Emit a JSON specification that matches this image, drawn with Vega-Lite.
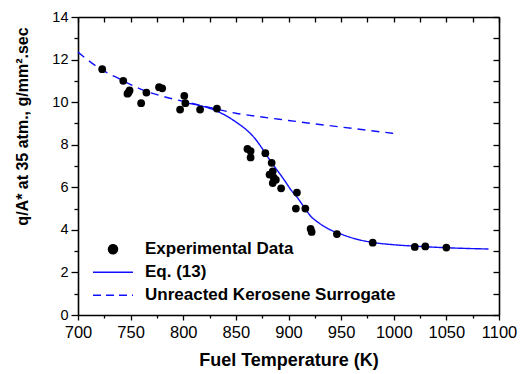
{
  "$schema": "https://vega.github.io/schema/vega-lite/v6.json",
  "width": 421,
  "height": 298,
  "autosize": "none",
  "padding": {"left": 78, "top": 17, "right": 21, "bottom": 59},
  "background": "white",
  "config": {
    "view": {"stroke": null},
    "font": "Liberation Sans",
    "axis": {"domainColor": "black", "tickColor": "black", "domainWidth": 1.6, "tickWidth": 1.3, "grid": false, "labelColor": "black", "titleColor": "black"}
  },
  "datasets": {
    "points": [
      {"T": 723, "q": 11.55, "series": "Experimental Data"},
      {"T": 743, "q": 11.0, "series": "Experimental Data"},
      {"T": 747, "q": 10.4, "series": "Experimental Data"},
      {"T": 749, "q": 10.55, "series": "Experimental Data"},
      {"T": 748, "q": 10.45, "series": "Experimental Data"},
      {"T": 760, "q": 9.95, "series": "Experimental Data"},
      {"T": 765, "q": 10.45, "series": "Experimental Data"},
      {"T": 777, "q": 10.7, "series": "Experimental Data"},
      {"T": 780, "q": 10.65, "series": "Experimental Data"},
      {"T": 797, "q": 9.65, "series": "Experimental Data"},
      {"T": 801, "q": 10.3, "series": "Experimental Data"},
      {"T": 802, "q": 9.95, "series": "Experimental Data"},
      {"T": 816, "q": 9.65, "series": "Experimental Data"},
      {"T": 832, "q": 9.7, "series": "Experimental Data"},
      {"T": 861, "q": 7.8, "series": "Experimental Data"},
      {"T": 864, "q": 7.7, "series": "Experimental Data"},
      {"T": 864, "q": 7.4, "series": "Experimental Data"},
      {"T": 878, "q": 7.6, "series": "Experimental Data"},
      {"T": 884, "q": 7.15, "series": "Experimental Data"},
      {"T": 882, "q": 6.6, "series": "Experimental Data"},
      {"T": 885, "q": 6.75, "series": "Experimental Data"},
      {"T": 886, "q": 6.45, "series": "Experimental Data"},
      {"T": 885, "q": 6.2, "series": "Experimental Data"},
      {"T": 888, "q": 6.35, "series": "Experimental Data"},
      {"T": 893, "q": 5.95, "series": "Experimental Data"},
      {"T": 908, "q": 5.75, "series": "Experimental Data"},
      {"T": 907, "q": 5.0, "series": "Experimental Data"},
      {"T": 916, "q": 5.0, "series": "Experimental Data"},
      {"T": 921, "q": 4.05, "series": "Experimental Data"},
      {"T": 922, "q": 3.9, "series": "Experimental Data"},
      {"T": 946, "q": 3.8, "series": "Experimental Data"},
      {"T": 980, "q": 3.4, "series": "Experimental Data"},
      {"T": 1020, "q": 3.2, "series": "Experimental Data"},
      {"T": 1030, "q": 3.22, "series": "Experimental Data"},
      {"T": 1050, "q": 3.17, "series": "Experimental Data"}
    ],
    "lines": [
      {"T": 800, "q": 9.98, "series": "Eq. (13)"},
      {"T": 815, "q": 9.85, "series": "Eq. (13)"},
      {"T": 830, "q": 9.62, "series": "Eq. (13)"},
      {"T": 840, "q": 9.38, "series": "Eq. (13)"},
      {"T": 852, "q": 9.0, "series": "Eq. (13)"},
      {"T": 860, "q": 8.7, "series": "Eq. (13)"},
      {"T": 868, "q": 8.3, "series": "Eq. (13)"},
      {"T": 876, "q": 7.75, "series": "Eq. (13)"},
      {"T": 884, "q": 7.15, "series": "Eq. (13)"},
      {"T": 890, "q": 6.75, "series": "Eq. (13)"},
      {"T": 896, "q": 6.34, "series": "Eq. (13)"},
      {"T": 902, "q": 5.9, "series": "Eq. (13)"},
      {"T": 909, "q": 5.48, "series": "Eq. (13)"},
      {"T": 915, "q": 5.05, "series": "Eq. (13)"},
      {"T": 921, "q": 4.65, "series": "Eq. (13)"},
      {"T": 929, "q": 4.32, "series": "Eq. (13)"},
      {"T": 937, "q": 4.07, "series": "Eq. (13)"},
      {"T": 950, "q": 3.8, "series": "Eq. (13)"},
      {"T": 962, "q": 3.6, "series": "Eq. (13)"},
      {"T": 980, "q": 3.41, "series": "Eq. (13)"},
      {"T": 1000, "q": 3.3, "series": "Eq. (13)"},
      {"T": 1022, "q": 3.23, "series": "Eq. (13)"},
      {"T": 1050, "q": 3.16, "series": "Eq. (13)"},
      {"T": 1090, "q": 3.1, "series": "Eq. (13)"},
      {"T": 700, "q": 12.35, "series": "Unreacted Kerosene Surrogate"},
      {"T": 720, "q": 11.6, "series": "Unreacted Kerosene Surrogate"},
      {"T": 740, "q": 11.08, "series": "Unreacted Kerosene Surrogate"},
      {"T": 760, "q": 10.6, "series": "Unreacted Kerosene Surrogate"},
      {"T": 780, "q": 10.28, "series": "Unreacted Kerosene Surrogate"},
      {"T": 800, "q": 10.04, "series": "Unreacted Kerosene Surrogate"},
      {"T": 825, "q": 9.75, "series": "Unreacted Kerosene Surrogate"},
      {"T": 850, "q": 9.48, "series": "Unreacted Kerosene Surrogate"},
      {"T": 875, "q": 9.3, "series": "Unreacted Kerosene Surrogate"},
      {"T": 900, "q": 9.14, "series": "Unreacted Kerosene Surrogate"},
      {"T": 925, "q": 8.98, "series": "Unreacted Kerosene Surrogate"},
      {"T": 950, "q": 8.83, "series": "Unreacted Kerosene Surrogate"},
      {"T": 975, "q": 8.68, "series": "Unreacted Kerosene Surrogate"},
      {"T": 1000, "q": 8.53, "series": "Unreacted Kerosene Surrogate"}
    ]
  },
  "resolve": {"axis": {"x": "independent", "y": "independent"}},
  "layer": [
    {
      "data": {"name": "lines"},
      "mark": {"type": "line", "strokeWidth": 1.4, "interpolate": "monotone"},
      "encoding": {
        "x": {"field": "T", "type": "quantitative", "scale": {"domain": [700, 1100], "nice": false, "zero": false},
          "axis": {"orient": "bottom", "values": [725, 775, 825, 875, 925, 975, 1025, 1075], "tickSize": 3, "labels": false, "domain": false, "title": null}},
        "y": {"field": "q", "type": "quantitative", "scale": {"domain": [0, 14], "nice": false},
          "axis": {"orient": "left", "values": [1, 3, 5, 7, 9, 11, 13], "tickSize": 4, "labels": false, "domain": false, "title": null}},
        "color": {"field": "series", "type": "nominal",
          "scale": {"domain": ["Experimental Data", "Eq. (13)", "Unreacted Kerosene Surrogate"], "range": ["black", "#1010ff", "#1010ff"]},
          "legend": {
            "title": null, "orient": "none", "legendX": 14, "legendY": 221,
            "symbolType": "stroke", "symbolSize": 1600, "clipHeight": 22.5, "rowPadding": 0,
            "labelFont": "Liberation Sans", "labelFontSize": 17, "labelFontWeight": "bold", "labelColor": "black", "labelOffset": 11, "labelLimit": 400, "padding": 0,
            "encode": {"symbols": {"update": {
              "shape": {"signal": "datum.value === 'Experimental Data' ? 'circle' : 'stroke'"},
              "size": {"signal": "datum.value === 'Experimental Data' ? 80 : 1600"},
              "fill": {"signal": "datum.value === 'Experimental Data' ? 'black' : 'transparent'"},
              "stroke": {"signal": "datum.value === 'Experimental Data' ? 'transparent' : '#1010ff'"},
              "strokeWidth": {"value": 1.5},
              "strokeDash": {"signal": "datum.value === 'Unreacted Kerosene Surrogate' ? [8, 5] : [1, 0]"},
              "opacity": {"value": 1}
            }}}
          }},
        "strokeDash": {"field": "series", "type": "nominal",
          "scale": {"domain": ["Eq. (13)", "Unreacted Kerosene Surrogate"], "range": [[1, 0], [8, 6]]}, "legend": null}
      }
    },
    {
      "data": {"name": "points"},
      "mark": {"type": "point", "filled": true, "shape": "circle", "size": 60, "opacity": 1},
      "encoding": {
        "x": {"field": "T", "type": "quantitative",
          "axis": {"orient": "bottom", "values": [700, 750, 800, 850, 900, 950, 1000, 1050, 1100], "format": "d", "tickSize": 5, "labelFontSize": 16.5, "labelPadding": 4, "labelFlush": false,
            "title": "Fuel Temperature (K)", "titleFontSize": 18, "titleFontWeight": "bold", "titleBaseline": "alphabetic", "titleY": 50}},
        "y": {"field": "q", "type": "quantitative",
          "axis": {"orient": "left", "values": [0, 2, 4, 6, 8, 10, 12, 14], "format": "d", "tickSize": 7, "labelFontSize": 14.5, "labelPadding": 3, "labelFlush": false,
            "title": "q/A* at 35 atm., g/mm².sec", "titleFontSize": 16, "titleFontWeight": "bold", "titleAngle": -90, "titleBaseline": "middle", "titleAlign": "center", "titleX": -56, "titleY": 109}},
        "color": {"field": "series", "type": "nominal"}
      }
    },
    {
      "data": {"name": "points"},
      "mark": {"type": "point", "opacity": 0},
      "encoding": {
        "x": {"field": "T", "type": "quantitative",
          "axis": {"orient": "top", "values": [700, 725, 750, 775, 800, 825, 850, 875, 900, 925, 950, 975, 1000, 1025, 1050, 1075, 1100], "tickSize": -5, "labels": false, "title": null}},
        "y": {"field": "q", "type": "quantitative",
          "axis": {"orient": "right", "values": [0, 1, 2, 3, 4, 5, 6, 7, 8, 9, 10, 11, 12, 13, 14], "tickSize": -6, "labels": false, "title": null}}
      }
    }
  ]
}
